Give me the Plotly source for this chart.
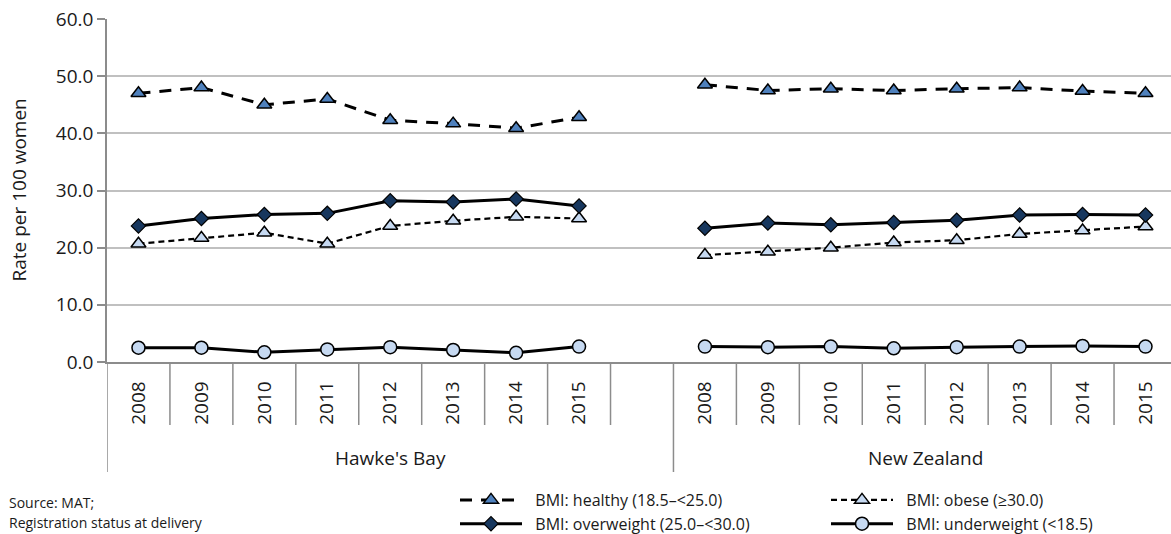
import plotly.graph_objects as go

# ---- data ----
groups = ["Hawke's Bay", "New Zealand"]
years = ["2008", "2009", "2010", "2011", "2012", "2013", "2014", "2015"]

hb_healthy = [47.0, 48.0, 45.0, 46.0, 42.3, 41.7, 40.9, 42.8]
nz_healthy = [48.5, 47.5, 47.8, 47.5, 47.8, 48.0, 47.4, 47.0]
hb_obese = [20.7, 21.7, 22.6, 20.7, 23.8, 24.7, 25.4, 25.1]
nz_obese = [18.7, 19.3, 20.0, 20.9, 21.3, 22.4, 23.0, 23.7]
hb_over = [23.8, 25.1, 25.8, 26.0, 28.2, 28.0, 28.5, 27.3]
nz_over = [23.4, 24.3, 24.0, 24.4, 24.8, 25.7, 25.8, 25.7]
hb_under = [2.5, 2.5, 1.7, 2.2, 2.6, 2.1, 1.6, 2.7]
nz_under = [2.7, 2.6, 2.7, 2.4, 2.6, 2.7, 2.8, 2.7]

y_ticks = [0, 10, 20, 30, 40, 50, 60]

# category positions: HB group has 8 years + one empty slot, then NZ
n = len(years)
hb_x = list(range(n))
nz_x = [n + 1 + i for i in range(n)]
group_bounds = [(-0.5, n + 0.5), (n + 0.5, 2 * n + 0.5)]

FONT = "Open Sans"
GRID = "#c0c0c0"
AXIS = "#8c8c8c"
TXT = "#1a1a1a"
PAD = "\u00a0\u00a0"

series = [
    ("BMI: healthy (18.5\u2013<25.0)", hb_healthy, nz_healthy,
     dict(color="black", width=3, dash="12px,9px"),
     dict(symbol="triangle-up", size=13, color="#4f81bd", line=dict(color="black", width=1.5))),
    ("BMI: obese (\u226530.0)", hb_obese, nz_obese,
     dict(color="black", width=2.2, dash="6px,4px"),
     dict(symbol="triangle-up", size=13, color="#c6d9f1", line=dict(color="black", width=1.5))),
    ("BMI: overweight (25.0\u2013<30.0)", hb_over, nz_over,
     dict(color="black", width=3),
     dict(symbol="diamond", size=11, color="#17375e", line=dict(color="black", width=1.2))),
    ("BMI: underweight (<18.5)", hb_under, nz_under,
     dict(color="black", width=3),
     dict(symbol="circle", size=13, color="#c6d9f1", line=dict(color="black", width=1.5))),
]

fig = go.Figure()
for name, hb, nz, line, marker in series:
    fig.add_trace(go.Scatter(x=hb_x, y=hb, mode="lines+markers", name=PAD + name,
                             line=line, marker=marker))
    fig.add_trace(go.Scatter(x=nz_x, y=nz, mode="lines+markers", name=PAD + name,
                             showlegend=False, line=line, marker=marker))

W, H = 1171, 534
ml, mr, mt, mb = 107, 0, 19, 172
plot_h = H - mt - mb

short_sep = -63 / plot_h
long_sep = -110 / plot_h

shapes = []
for xs in [hb_x, nz_x]:
    for i in xs[1:]:
        shapes.append(dict(type="line", xref="x", yref="paper", x0=i - 0.5, x1=i - 0.5,
                           y0=0, y1=short_sep, line=dict(color=AXIS, width=1.5)))
shapes.append(dict(type="line", xref="x", yref="paper", x0=hb_x[-1] + 0.5, x1=hb_x[-1] + 0.5,
                   y0=0, y1=short_sep, line=dict(color=AXIS, width=1.5)))
for xb in group_bounds[0]:
    shapes.append(dict(type="line", xref="x", yref="paper", x0=xb, x1=xb,
                       y0=0, y1=long_sep, line=dict(color=AXIS, width=1.5)))

annotations = []
for g, (g0, g1) in zip(groups, group_bounds):
    annotations.append(dict(text=g, xref="x", yref="paper", x=(g0 + g1) / 2,
                            y=-(458 - (mt + plot_h)) / plot_h, showarrow=False,
                            xanchor="center", yanchor="middle",
                            font=dict(family=FONT, size=19, color=TXT)))
annotations.append(dict(text="Rate per 100 women", xref="paper", yref="paper",
                        x=(18 - ml) / (W - ml - mr), y=0.5, textangle=-90, showarrow=False,
                        xanchor="center", yanchor="middle",
                        font=dict(family=FONT, size=19, color=TXT)))
for txt, py in [("Source: MAT;", 502), ("Registration status at delivery", 522)]:
    annotations.append(dict(text=txt, xref="paper", yref="paper",
                            x=(7 - ml) / (W - ml - mr), y=-(py - (mt + plot_h)) / plot_h,
                            showarrow=False, xanchor="left", yanchor="middle",
                            font=dict(family=FONT, size=14, color=TXT)))

fig.update_layout(
    width=W, height=H,
    margin=dict(l=ml, r=mr, t=mt, b=mb, autoexpand=False),
    paper_bgcolor="white", plot_bgcolor="white",
    font=dict(family=FONT, color=TXT),
    showlegend=True,
    legend=dict(orientation="h", xref="container", yref="container",
                x=455 / W, y=1 - 483 / H, xanchor="left", yanchor="top",
                entrywidth=294, entrywidthmode="pixels", itemwidth=62,
                tracegroupgap=0,
                font=dict(family=FONT, size=16, color=TXT), bgcolor="rgba(0,0,0,0)",
                traceorder="normal"),
    xaxis=dict(range=[-0.5, -0.5 + (W - ml - mr) / 62.94], tickmode="array",
               tickvals=hb_x + nz_x, ticktext=years + years, tickangle=-90,
               ticks="", showgrid=False, zeroline=False, showline=True,
               linecolor=AXIS, linewidth=1.5, ticklabelstandoff=10,
               tickfont=dict(family=FONT, size=19, color=TXT)),
    yaxis=dict(range=[0, 60], tickmode="array", tickvals=y_ticks,
               ticktext=[f"{v:.1f}" for v in y_ticks], ticks="outside", ticklen=8,
               tickcolor=AXIS, tickwidth=1.5, showgrid=True, gridcolor=GRID, gridwidth=1.5,
               zeroline=False, showline=True, linecolor=AXIS, linewidth=1.5,
               tickfont=dict(family=FONT, size=19, color=TXT)),
    shapes=shapes,
    annotations=annotations,
)

fig.write_html("out.html", config={"displayModeBar": False},
               post_script="document.body.style.margin='0';document.body.style.overflow='hidden';")
